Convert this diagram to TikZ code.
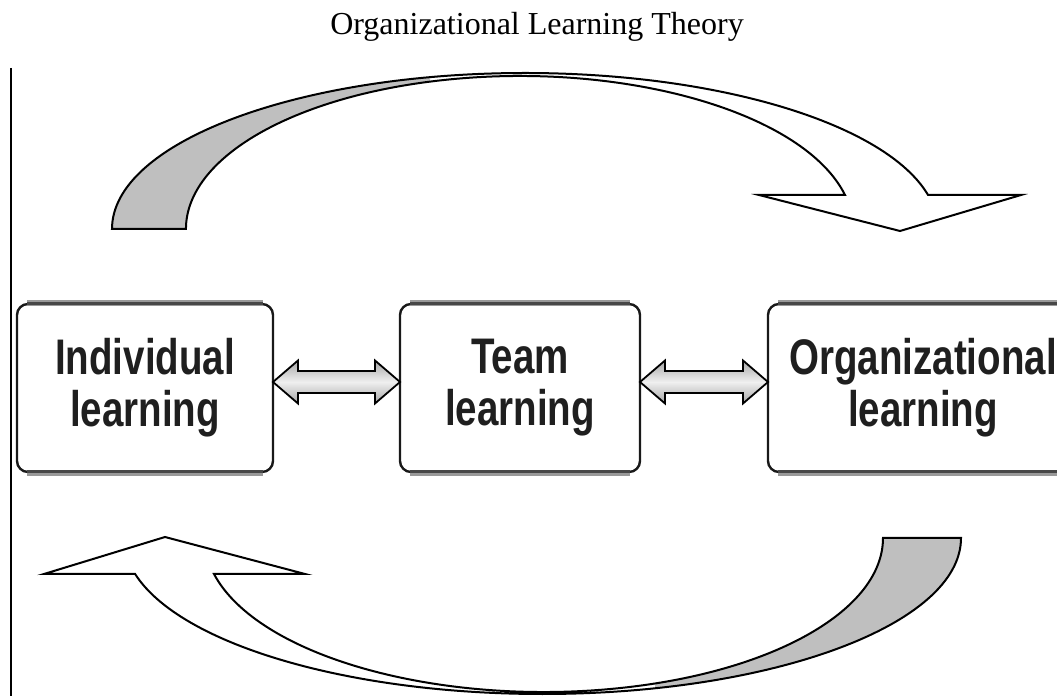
\documentclass[tikz,border=0pt]{standalone}
\usepackage{fontspec}
\setmainfont{Liberation Serif}
\newfontfamily\boxfont[FakeStretch=0.77]{Liberation Sans}
\usetikzlibrary{calc}

\begin{document}
\begin{tikzpicture}[x=1pt,y=1pt,
  stage/.style={draw=black!90, line width=2.4pt, rounded corners=11pt, fill=white,
    minimum height=168pt, inner sep=0pt, outer sep=0pt, align=center,
    font=\boxfont\bfseries\fontsize{50}{52}\selectfont, text=black!88},
  rimhalo/.style={draw=black!40, line width=6.5pt},
  rimcore/.style={draw=black!72, line width=3pt},
  loop/.style={draw=black, line width=2pt, line join=miter},
  link/.style={draw=black, line width=1.8pt, line join=miter,
    top color=gray!70, bottom color=gray!70, middle color=gray!12},
  upperloop/.style={insert path={(112,467)
    arc[start angle=180, end angle=12.59, x radius=413pt, y radius=156pt]
    -- (1021,501) -- (900,465) -- (759,501) -- (845,501)
    arc[start angle=12.84, end angle=180, x radius=333.7pt, y radius=153pt]
    -- cycle}},
  lowerloop/.style={insert path={(961,158)
    arc[start angle=0, end angle=-166.66, x radius=418.6pt, y radius=156pt]
    -- (44,122) -- (165,159) -- (305,122) -- (214,122)
    arc[start angle=-166.48, end angle=0, x radius=339.2pt, y radius=154pt]
    -- cycle}},
]
\useasboundingbox (0,0) rectangle (1057,696);
\clip (0,0) rectangle (1057,696);

% title
\node[font=\fontsize{32}{36}\selectfont, anchor=base] (title) at (537,661)
  {Organizational Learning Theory};

% left rule
\coordinate (ruletop) at (11,628);
\coordinate (rulebot) at (11,0);
\draw[line width=1.5pt] (ruletop) -- (rulebot);

% upper feedback arrow (grey at its tail)
\begin{scope}
  \fill[white, upperloop];
  \clip (0,0) rectangle (430,696);
  \fill[gray!50, upperloop];
\end{scope}
\draw[loop, upperloop];

% lower feedback arrow (grey at its tail)
\begin{scope}
  \fill[white, lowerloop];
  \clip (655,0) rectangle (1057,696);
  \fill[gray!50, lowerloop];
\end{scope}
\draw[loop, lowerloop];

% the three learning levels
\node[stage, minimum width=256pt] (ind) at (145,308) {Individual\\learning};
\node[stage, minimum width=240pt] (team) at (520,308) {Team\\learning};
\node[stage, minimum width=310pt] (org) at (923,308) {Organizational\\learning};

% soft grey rims along the top and bottom edges of each box
\foreach \b in {ind,team,org}{
  \draw[rimhalo] ($(\b.north west)+(10,1)$) -- ($(\b.north east)+(-10,1)$);
  \draw[rimcore] ($(\b.north west)+(10,0)$) -- ($(\b.north east)+(-10,0)$);
  \draw[rimhalo] ($(\b.south west)+(10,-1)$) -- ($(\b.south east)+(-10,-1)$);
  \draw[rimcore] ($(\b.south west)+(10,0)$) -- ($(\b.south east)+(-10,0)$);
}

% two-way links between levels
\coordinate (l1) at ($(ind.east)+(0,6)$);
\coordinate (r1) at ($(team.west)+(0,6)$);
\path[link] (l1) -- ++(25,21.5) -- ++(0,-10.5) -- ($(r1)+(-25,11)$) -- ++(0,10.5)
  -- (r1) -- ++(-25,-21.5) -- ++(0,10.5) -- ($(l1)+(25,-11)$) -- ++(0,-10.5) -- cycle;

\coordinate (l2) at ($(team.east)+(0,6)$);
\coordinate (r2) at ($(org.west)+(0,6)$);
\path[link] (l2) -- ++(25,21.5) -- ++(0,-10.5) -- ($(r2)+(-25,11)$) -- ++(0,10.5)
  -- (r2) -- ++(-25,-21.5) -- ++(0,10.5) -- ($(l2)+(25,-11)$) -- ++(0,-10.5) -- cycle;
\end{tikzpicture}
\end{document}
